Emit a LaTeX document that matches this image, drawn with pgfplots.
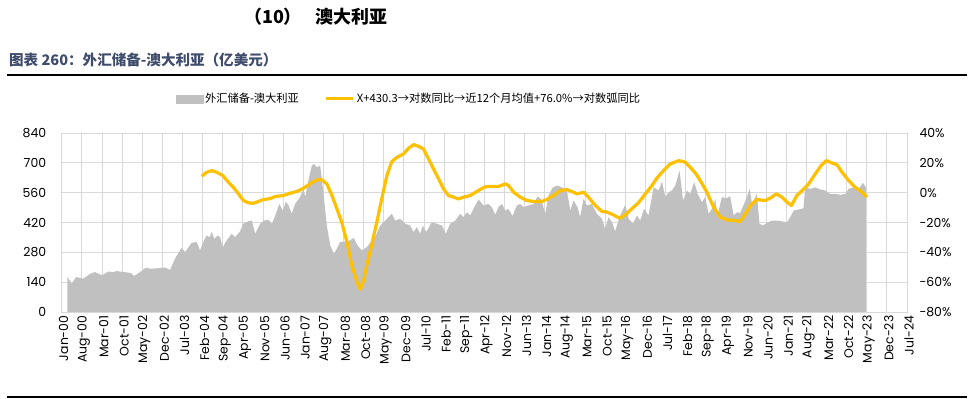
\documentclass[border=0pt]{standalone}
\usepackage{pgfplots}
\pgfplotsset{compat=1.18}
\usepackage{fontspec}
\setmainfont{Poppins}
\newfontfamily\cjk{Noto Sans CJK SC}
\definecolor{areagray}{HTML}{C0C0C0}
\definecolor{gridgray}{HTML}{D9D9D9}
\definecolor{lineyellow}{HTML}{FFC000}
\definecolor{subblue}{HTML}{3F4C6B}
\newcommand{\tickfont}{\fontsize{12.5}{14}\selectfont}
\begin{document}
\begin{tikzpicture}
\path[use as bounding box, fill=white] (0,0) rectangle (975bp,399bp);
\node[anchor=west, inner sep=0pt] at (244bp,382bp) {\cjk\bfseries\fontsize{18}{20}\selectfont （10）\hspace{14bp}澳大利亚};
\node[anchor=west, inner sep=0pt, text=subblue] at (9bp,339bp) {\cjk\bfseries\fontsize{14.6}{16}\selectfont 图表 260：外汇储备-澳大利亚（亿美元）};
\draw[line width=2bp] (7bp,324bp) -- (967bp,324bp);
\draw[line width=2bp] (7bp,2bp) -- (967bp,2bp);
\begin{axis}[
  scale only axis, width=845.3bp, height=179bp,
  at={(61.7bp,87bp)}, anchor=south west,
  xmin=0, xmax=294, ymin=0, ymax=840,
  xtick={0,7,...,294},
  xticklabels={Jan-00,Aug-00,Mar-01,Oct-01,May-02,Dec-02,Jul-03,Feb-04,Sep-04,Apr-05,Nov-05,Jun-06,Jan-07,Aug-07,Mar-08,Oct-08,May-09,Dec-09,Jul-10,Feb-11,Sep-11,Apr-12,Nov-12,Jun-13,Jan-14,Aug-14,Mar-15,Oct-15,May-16,Dec-16,Jul-17,Feb-18,Sep-18,Apr-19,Nov-19,Jun-20,Jan-21,Aug-21,Mar-22,Oct-22,May-23,Dec-23,Jul-24},
  ytick={0,140,280,420,560,700,840},
  yticklabels={0,140,280,420,560,700,840},
  grid=major, grid style={draw=gridgray, line width=0.9bp},
  axis line style={draw=gridgray, line width=0.9bp},
  major tick length=0pt,
  xticklabel style={rotate=90, anchor=east, font=\tickfont, yshift=-2bp},
  yticklabel style={font=\tickfont, xshift=-12bp},
]
\addplot[fill=areagray, draw=none] table {
2 164
3.5 133
5 164
7.5 156
10 180
11.6 187
14 172
16.2 190
18 187
19 192
22 187
24 183
25.2 169
27.2 187
29.3 208
30.7 203
34.2 206
36 209
37.7 197
39.4 250
41.7 301
42.9 281
45.2 325
47 328
48.1 289
49.5 336
50.4 359
51.4 351
52.2 375
53.1 343
54.2 359
55.1 351
56 304
57.4 336
59.1 367
60.3 351
62 378
63.2 414
64.9 426
66.1 429
67.3 367
69 414
70.4 429
71.9 433
73.1 414
74.2 450
75.7 507
76.9 476
78 518
78.9 500
80 461
81.2 507
82.9 539
84.1 578
84.7 539
85.8 617
87 687
87.8 695
88.7 679
89.9 687
91 562
92.2 406
93.4 312
94.7 273
95.7 297
96.8 328
98.6 331
100.3 336
101.5 348
102.9 312
104.4 289
106.1 304
107.3 325
109 351
110.8 406
113.1 437
114.8 461
116 429
117.7 437
119.5 414
121.2 406
122.4 375
123.5 398
124.7 367
125.6 406
126.8 375
128.7 421
130.5 414
132.2 406
133.6 367
135.1 414
136.9 429
138.6 461
139.8 445
140.9 468
142.1 453
143.5 492
145 528
146.7 500
148.4 507
149.6 492
150.8 456
151.9 492
153.1 507
154.3 476
155.4 484
156.8 450
158.3 500
159.5 507
160.6 492
162.4 500
164.1 507
165.5 542
166.7 531
168.2 461
169.3 546
170.8 585
172.5 593
174 585
175.7 570
176.9 476
178 523
179.4 492
180.3 445
181.5 531
182.7 500
184.4 507
186.1 461
187.9 437
189 390
190.2 445
191.4 421
192.5 378
194 445
196 503
197.2 437
198.7 414
200.1 453
201.2 429
202.6 484
204.1 453
205.9 585
207.6 570
208.8 612
209.9 539
211.1 562
212.2 570
213.4 593
214.9 663
216.1 523
217.5 570
218.6 554
220 610
221.2 554
222.7 515
223.8 539
225 461
226.5 492
227.3 531
228.1 453
229.6 539
231.1 534
232.5 543
233.7 453
234.9 468
236 465
237.2 503
238.3 539
239.3 578
240.1 507
241.8 554
242.7 414
243.9 406
245.3 418
247 429
248.8 429
250.5 425
252.3 421
253.4 445
254.6 476
256.3 481
258 487
258.6 585
260.4 578
262.1 585
263.9 575
265.6 570
267.3 554
269.1 554
270.8 550
272.6 554
273.7 578
275.5 585
277.2 578
278.7 606
279.7 585
} \closedcycle;
\end{axis}
\begin{axis}[
  scale only axis, width=845.3bp, height=179bp,
  at={(61.7bp,87bp)}, anchor=south west,
  xmin=0, xmax=294, ymin=-80, ymax=40,
  axis y line*=right, axis x line=none,
  ytick={-80,-60,-40,-20,0,20,40},
  yticklabels={-80\%,-60\%,-40\%,-20\%,0\%,20\%,40\%},
  axis line style={draw=none},
  major tick length=0pt,
  yticklabel style={font=\tickfont, xshift=9bp},
  legend columns=2,
  legend style={draw=none, fill=none, at={(0.131,1.19)}, anchor=west,
    font=\cjk\fontsize{11.3}{13}\selectfont,
    /tikz/every even column/.append style={column sep=24bp}},
  legend cell align=left,
]
\addlegendimage{legend image code/.code={\fill[areagray] (0bp,-4bp) rectangle (27bp,4bp);}}
\addlegendentry{外汇储备-澳大利亚}
\addplot[color=lineyellow, line width=3.2bp, line join=round,
  legend image code/.code={\draw[lineyellow, line width=3bp] (0bp,0bp) -- (27bp,0bp);}] table {
48.7 11.0
50.4 13.7
52.2 14.8
53.9 13.7
56 11.5
58 7.0
59.7 3.6
61.5 -0.8
63.2 -5.3
64.9 -6.8
66.7 -7.1
68.4 -5.9
70.2 -4.6
72.5 -4.0
74.2 -2.6
77.1 -1.9
79.4 -0.4
81.8 0.8
84.1 3.0
86.4 5.9
88.7 8.6
90.5 8.6
92.2 5.9
94 -1.9
95.7 -10.8
97.4 -19.8
99.2 -33.1
100.9 -48.8
102.9 -61.0
103.8 -64.8
105 -58.8
106.1 -48.8
107.9 -34.3
109.6 -19.8
111.3 -4.2
113.1 11.5
114.8 20.8
116.6 23.7
118.9 26.0
120.6 29.7
122.4 32.2
124.1 31.1
125.8 29.3
127.6 22.6
129.3 15.9
131.1 9.2
132.8 2.5
134.5 -1.9
136.3 -3.0
138 -4.2
139.8 -3.0
142.1 -1.9
144.4 0.8
146.7 3.4
147.9 4.1
150.2 4.1
151.9 4.1
154.3 5.9
155.4 4.8
157.2 0.3
159.5 -3.0
161.8 -5.3
164.1 -5.9
167 -5.9
168.7 -4.6
171.1 -1.9
173.4 1.4
175.7 2.1
177.4 0.8
179.2 -0.8
181.5 0.3
183.2 -3.0
185.6 -8.6
187.9 -12.6
189.6 -13.0
191.9 -14.9
194 -17.1
196 -14.9
198.3 -10.8
200.6 -6.8
203 -0.8
205.3 4.8
207 9.7
209.3 14.8
211.7 19.3
214.6 21.5
216.9 20.4
218.6 17.0
220.4 13.2
222.1 8.1
224.4 0.3
226.7 -9.7
229.1 -16.4
231.4 -18.2
233.7 -18.6
236 -19.3
237.8 -14.2
239.5 -8.6
241.8 -4.6
244.7 -5.3
247 -3.0
248.5 -0.8
250.5 -3.0
252.3 -6.4
253.8 -8.6
255.7 -1.9
257.5 1.4
259.8 5.9
262.1 12.6
264.1 18.1
265.9 21.5
267.9 19.9
269.7 18.6
271.4 13.7
273.7 8.1
276 3.6
278.4 0.3
280.1 -3.0
};
\addlegendentry{X+430.3→对数同比→近12个月均值+76.0\%→对数弧同比}
\end{axis}
\end{tikzpicture}
\end{document}
